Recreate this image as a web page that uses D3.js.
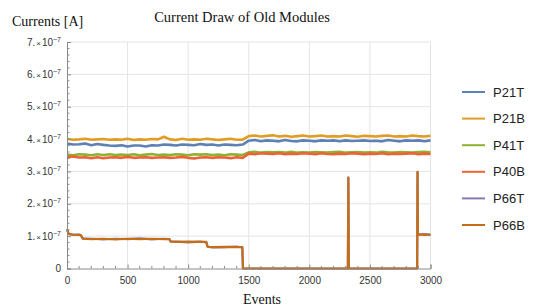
<!DOCTYPE html>
<html><head><meta charset="utf-8">
<script src="https://cdn.jsdelivr.net/npm/d3@7"></script>
<style>body{margin:0;background:#fff}svg{display:block}</style>
</head><body>
<svg id="c" width="534" height="308"></svg>
<script>
// ---- data (currents in units of 1e-7 A) ----
const UNIT = 1e-7;
const seriesNames = ["P21T","P21B","P41T","P40B","P66T","P66B"];
const colors = ["#5E81B5","#E19C24","#8FB032","#EB6235","#8778B3","#C56E1A"];
// steady series sampled every 50 events, 0..3000
const events = d3.range(0, 3001, 50);
const p21T = [3.86,3.83,3.84,3.86,3.81,3.85,3.82,3.80,3.79,3.81,3.77,3.80,3.80,3.77,3.81,3.80,3.83,3.82,3.80,3.83,3.82,3.81,3.85,3.82,3.83,3.80,3.83,3.82,3.81,3.83,
              3.95,3.97,3.93,3.96,3.95,3.93,3.97,3.94,3.93,3.96,3.95,3.93,3.96,3.95,3.96,3.93,3.96,3.94,3.95,3.96,3.94,3.95,3.93,3.97,3.95,3.93,3.96,3.95,3.96,3.93,3.96];
const p21B = [4.01,3.98,3.99,4.01,3.98,3.99,4.00,3.98,3.99,3.98,4.01,3.97,3.99,3.98,4.00,3.99,4.07,3.99,3.97,4.01,3.98,3.99,3.98,4.01,3.99,3.97,3.99,4.01,3.98,3.98,
              4.09,4.11,4.08,4.10,4.12,4.08,4.10,4.07,4.09,4.11,4.08,4.09,4.11,4.08,4.09,4.08,4.11,4.09,4.07,4.10,4.09,4.08,4.10,4.11,4.08,4.09,4.08,4.11,4.09,4.08,4.10];
const p41T = [3.52,3.50,3.53,3.52,3.50,3.53,3.51,3.53,3.51,3.52,3.51,3.53,3.50,3.52,3.54,3.51,3.52,3.51,3.53,3.52,3.50,3.53,3.52,3.53,3.51,3.52,3.50,3.53,3.52,3.51,
              3.59,3.61,3.58,3.60,3.59,3.60,3.58,3.61,3.58,3.59,3.58,3.60,3.59,3.58,3.60,3.61,3.58,3.59,3.60,3.58,3.59,3.58,3.61,3.59,3.58,3.60,3.59,3.58,3.60,3.61,3.59];
const p40B = [3.44,3.46,3.43,3.44,3.41,3.44,3.41,3.43,3.44,3.42,3.45,3.42,3.43,3.44,3.42,3.43,3.44,3.42,3.43,3.45,3.42,3.40,3.43,3.44,3.42,3.44,3.43,3.41,3.44,3.42,
              3.55,3.53,3.56,3.55,3.54,3.56,3.53,3.55,3.54,3.56,3.55,3.53,3.56,3.54,3.53,3.55,3.54,3.56,3.55,3.53,3.55,3.54,3.56,3.53,3.55,3.54,3.55,3.56,3.53,3.55,3.54];
// P66 modules: own event grid (steps and spikes)
const p66Events = [0,15,50,100,115,130,200,300,400,500,600,700,800,845,855,900,1000,1100,1150,1160,1200,1300,1400,1447,1452,1600,2000,2318,2322,2326,2400,2800,2890,2893,2896,2900,2950,3000];
const p66T = [1.20,1.07,1.04,1.05,1.02,0.93,0.92,0.90,0.92,0.91,0.93,0.90,0.92,0.91,0.84,0.83,0.81,0.83,0.81,0.68,0.65,0.66,0.68,0.65,0,0,0,0,2.82,0,0,0,0,2.98,1.03,1.04,1.06,1.04];
const p66B = [1.22,1.06,1.05,1.04,1.03,0.92,0.91,0.92,0.90,0.92,0.91,0.92,0.91,0.91,0.83,0.82,0.83,0.82,0.82,0.67,0.66,0.67,0.66,0.66,0,0,0,0,2.80,0,0,0,0,2.99,1.05,1.06,1.04,1.05];
const xTicks = [0,500,1000,1500,2000,2500,3000];
const yTicks = [0,1,2,3,4,5,6,7];
const titleText = "Current Draw of Old Modules";
const yLabel = "Currents [A]";
const xLabel = "Events";

const svg = d3.select("#c");
const x = d3.scaleLinear().domain([0,3000]).range([67,430.5]);
const y = d3.scaleLinear().domain([0,7*UNIT]).range([268.5,42]);

// grid
const g = svg.append("g");
g.selectAll("line.vg").data(xTicks.filter(d=>d>0)).enter().append("line")
  .attr("x1",d=>x(d)).attr("x2",d=>x(d)).attr("y1",y(0)).attr("y2",y(7*UNIT))
  .attr("stroke","#e4e4e4").attr("stroke-width",1);
g.selectAll("line.hg").data(yTicks.filter(d=>d>0)).enter().append("line")
  .attr("x1",x(0)).attr("x2",x(3000)).attr("y1",d=>y(d*UNIT)).attr("y2",d=>y(d*UNIT))
  .attr("stroke","#e4e4e4").attr("stroke-width",1);

// series
const datasets = [
  events.map((e,i)=>[e,p21T[i]]),
  events.map((e,i)=>[e,p21B[i]]),
  events.map((e,i)=>[e,p41T[i]]),
  events.map((e,i)=>[e,p40B[i]]),
  p66Events.map((e,i)=>[e,p66T[i]]),
  p66Events.map((e,i)=>[e,p66B[i]])
];
const line = d3.line().x(d=>x(d[0])).y(d=>y(d[1]*UNIT));
datasets.forEach((ds,i)=>{
  svg.append("path").datum(ds).attr("d",line).attr("fill","none")
    .attr("stroke",colors[i]).attr("stroke-width",i<4?2.6:2.2).attr("stroke-linejoin","round");
});

// axes
const axisColor = "#8a8a8a";
const xAxis = d3.axisBottom(x).tickValues(xTicks).tickSize(-4).tickPadding(8).tickFormat(d3.format("d"));
const xa = svg.append("g").attr("transform",`translate(0,${y(0)})`).call(xAxis);
const yAxis = d3.axisLeft(y).tickValues(yTicks.map(d=>d*UNIT)).tickSize(-4).tickFormat("");
const ya = svg.append("g").attr("transform",`translate(${x(0)},0)`).call(yAxis);
[xa,ya].forEach(a=>{
  a.select(".domain").attr("stroke",axisColor);
  a.selectAll(".tick line").attr("stroke",axisColor);
  a.selectAll("text").attr("fill","#333").style("font-family","'Liberation Sans',Arial,sans-serif").style("font-size","10px");
});
// minor ticks
svg.append("g").selectAll("line").data(d3.range(100,3000,100).filter(d=>d%500!==0)).enter().append("line")
  .attr("x1",d=>x(d)).attr("x2",d=>x(d)).attr("y1",y(0)).attr("y2",y(0)-2.5).attr("stroke",axisColor);
svg.append("g").selectAll("line").data(d3.range(0.2,7,0.2).filter(d=>Math.abs(d-Math.round(d))>0.05)).enter().append("line")
  .attr("x1",x(0)).attr("x2",x(0)+2.5).attr("y1",d=>y(d*UNIT)).attr("y2",d=>y(d*UNIT)).attr("stroke",axisColor);

// y tick labels: "n.×10^-7"
const yl = svg.append("g").style("font-family","'Liberation Sans',Arial,sans-serif").attr("fill","#333");
yTicks.forEach(t=>{
  const tx = yl.append("text").attr("x",61).attr("y",y(t*UNIT)+3.5).attr("text-anchor","end").style("font-size","10px");
  if(t===0){ tx.text("0"); return; }
  tx.append("tspan").text(t+".");
  tx.append("tspan").text("×").style("font-size","8px").attr("dx",1);
  tx.append("tspan").text("10").attr("dx",1);
  tx.append("tspan").text("−7").style("font-size","7px").attr("dy",-4);
});

// titles
svg.append("text").attr("x",242).attr("y",22).attr("text-anchor","middle")
  .style("font-family","'Liberation Serif','Times New Roman',serif").style("font-size","14.5px").attr("fill","#111").text(titleText);
svg.append("text").attr("x",12).attr("y",26).attr("text-anchor","start")
  .style("font-family","'Liberation Serif','Times New Roman',serif").style("font-size","14px").attr("fill","#111").text(yLabel);
svg.append("text").attr("x",262).attr("y",304).attr("text-anchor","middle")
  .style("font-family","'Liberation Serif','Times New Roman',serif").style("font-size","14px").attr("fill","#111").text(xLabel);

// legend
const lg = svg.append("g");
seriesNames.forEach((n,i)=>{
  const yy = 92 + i*26.6;
  lg.append("line").attr("x1",462).attr("x2",485).attr("y1",yy).attr("y2",yy).attr("stroke",colors[i]).attr("stroke-width",2);
  lg.append("text").attr("x",493).attr("y",yy+4.5).text(n)
    .style("font-family","'Liberation Sans',Arial,sans-serif").style("font-size","13px").attr("fill","#222");
});
</script>
</body></html>
